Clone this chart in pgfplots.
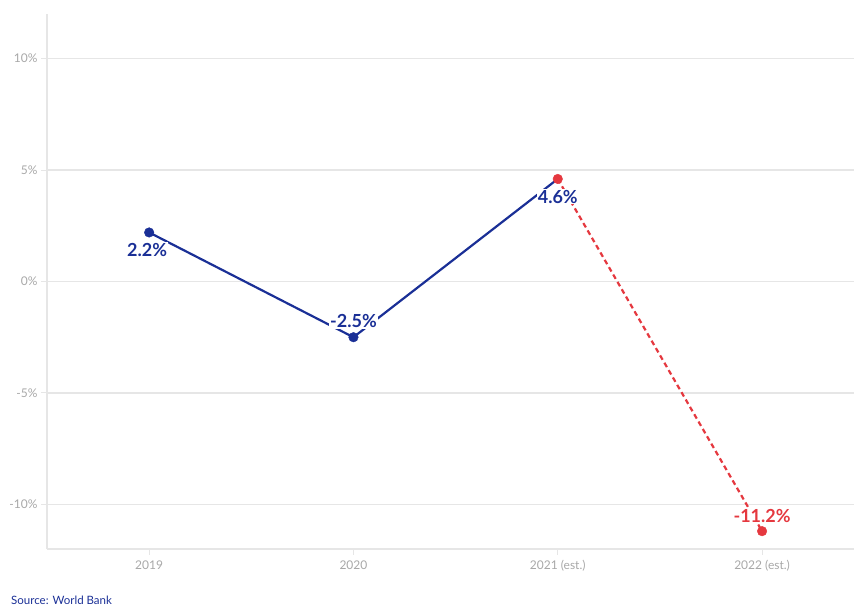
\documentclass[border=0pt]{standalone}
\usepackage{fontspec}
\setmainfont{Lato}
\usepackage{pgfplots}
\pgfplotsset{compat=1.18}
\definecolor{navy}{HTML}{1A2F96}
\definecolor{redc}{HTML}{E5383F}
\definecolor{gridc}{HTML}{E6E6E6}
\definecolor{tickc}{HTML}{A8A8A8}

\begin{document}
\begin{tikzpicture}[x=1pt,y=1pt]
\useasboundingbox (0,0) rectangle (854,606);
\begin{axis}[
    at={(47pt,57pt)}, anchor=south west,
    scale only axis, width=807pt, height=535pt,
    xmin=-0.5, xmax=3.45, ymin=-12, ymax=12,
    axis x line*=bottom, axis y line*=left,
    axis line style={gridc, line width=1.3pt, -},
    tick align=outside, major tick length=6pt,
    tick style={gridc, line width=1pt},
    xtick={0,1,2,3},
    xticklabels={2019,2020,2021 (est.),2022 (est.)},
    xticklabel style={yshift=-2pt},
    ytick={-10,-5,0,5,10},
    yticklabels={-10\%,-5\%,0\%,5\%,10\%},
    ymajorgrids, grid style={gridc, line width=1.1pt},
    ticklabel style={font=\fontsize{12}{14}\selectfont, text=tickc},
    /pgf/number format/assume math mode=true,
    clip=false,
]
\addplot[navy, line width=2.2pt] coordinates {(0,2.2) (1,-2.5) (2,4.6)};
\addplot[redc, line width=2.2pt, dash pattern=on 5pt off 3.5pt] coordinates {(2,4.6) (3,-11.2)};

\node[fill=white, inner sep=1pt, text=navy, font=\fontsize{18}{20}\bfseries] at (axis cs:-0.01,1.43) {2.2\%};
\node[fill=white, inner sep=1pt, text=navy, font=\fontsize{18}{20}\bfseries] at (axis cs:1,-1.79) {-2.5\%};
\node[fill=white, inner sep=1pt, text=navy, font=\fontsize{18}{20}\bfseries] at (axis cs:2,3.81) {4.6\%};
\node[fill=white, inner sep=1pt, text=redc, font=\fontsize{18}{20}\bfseries] at (axis cs:3,-10.54) {-11.2\%};

\addplot[only marks, mark=*, mark size=4.8pt, navy] coordinates {(0,2.2) (1,-2.5)};
\addplot[only marks, mark=*, mark size=4.8pt, redc] coordinates {(2,4.6) (3,-11.2)};
\end{axis}
\node[anchor=base west, inner sep=0pt, text=navy, font=\fontsize{11.5}{13}\selectfont] at (11,2) {Source: World Bank};
\end{tikzpicture}
\end{document}
